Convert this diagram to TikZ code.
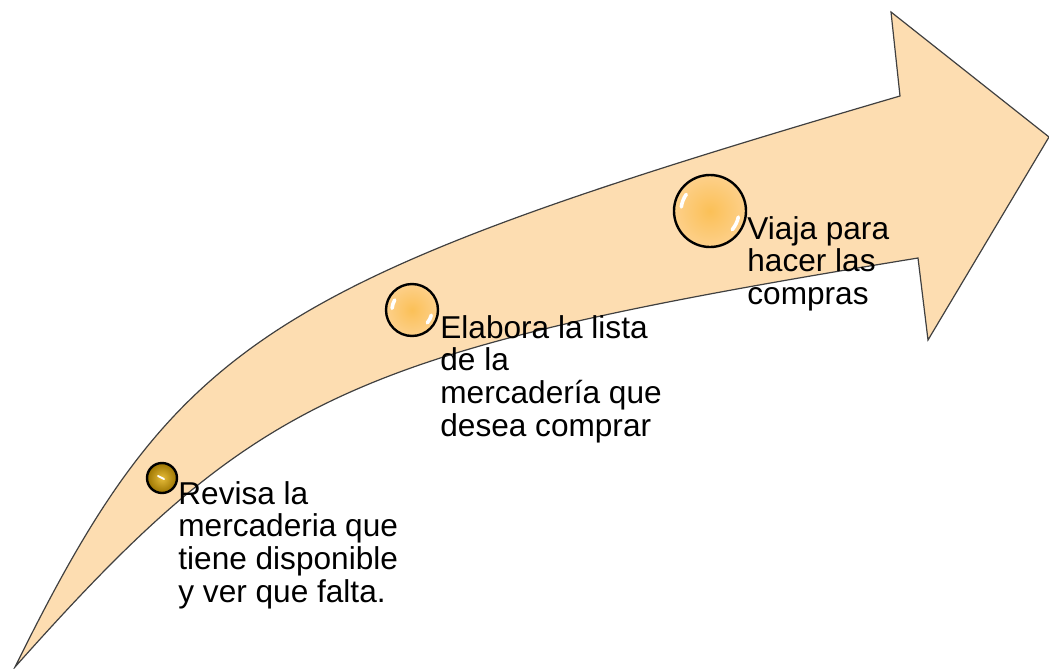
\documentclass[tikz,border=0pt]{standalone}
\usepackage{fontspec}
\setmainfont{Liberation Sans}
\usetikzlibrary{positioning}
\definecolor{peach}{HTML}{FDDDB1}
\definecolor{ballorange}{HTML}{FBC057}
\definecolor{balllight}{HTML}{FDD08A}
\definecolor{golddark}{HTML}{9C7400}
\definecolor{goldlight}{HTML}{E6BC3A}
\tikzset{%
	arrowbody/.style = {draw=black!75, fill=peach, line width=0.6pt, line join=miter},
	ball/.style      = {circle, draw, line width=1.2pt, inner sep=0pt, inner color=ballorange, outer color=balllight},
	goldball/.style  = {circle, draw, line width=1.2pt, inner sep=0pt, inner color=goldlight, outer color=golddark},
	shine/.style     = {white, line width=1.8pt, line cap=round},
	stagetext/.style = {align=left, inner sep=0pt, anchor=north west, font=\fontsize{15.8}{16.3}\selectfont},
}
\begin{document}
\begin{tikzpicture}[x=0.5pt, y=-0.5pt]
	\useasboundingbox (0,0) rectangle (1049,669);
	
	% curved arrow
	\draw[arrowbody] (15,667) .. controls (177,339) and (265,282) .. (900,96)
		-- (891,12) -- (1049,137) -- (928,340) -- (918,258)
		.. controls (350,351) and (260,392) .. (15,667) -- cycle;
	
	% balls
	\node[goldball, minimum size=15pt] (b1) at (162,478) {};
	\node[ball, minimum size=26pt] (b2) at (412,310) {};
	\node[ball, minimum size=36pt] (b3) at (710,211) {};
	
	\draw[shine, line width=1pt] ([shift={(-2pt,1pt)}]b1.center) -- ([shift={(1pt,-0.5pt)}]b1.center);
	\draw[shine] ([shift={(150:10pt)}]b2.center) arc[start angle=150, end angle=175, radius=10pt];
	\draw[shine] ([shift={(-15:10pt)}]b2.center) arc[start angle=-15, end angle=-40, radius=10pt];
	\draw[shine] ([shift={(145:14.5pt)}]b3.center) arc[start angle=145, end angle=172, radius=14.5pt];
	\draw[shine] ([shift={(-12:14.5pt)}]b3.center) arc[start angle=-12, end angle=-40, radius=14.5pt];
	
	% texts
	\node[stagetext] (t1) at (178,481) {Revisa la\\mercaderia que\\tiene disponible\\y ver que falta.};
	\node[stagetext] (t2) at (440,315) {Elabora la lista\\de la\\mercadería que\\desea comprar};
	\node[stagetext] (t3) at (747,216) {Viaja para\\hacer las\\compras};
	
\end{tikzpicture}
\end{document}
